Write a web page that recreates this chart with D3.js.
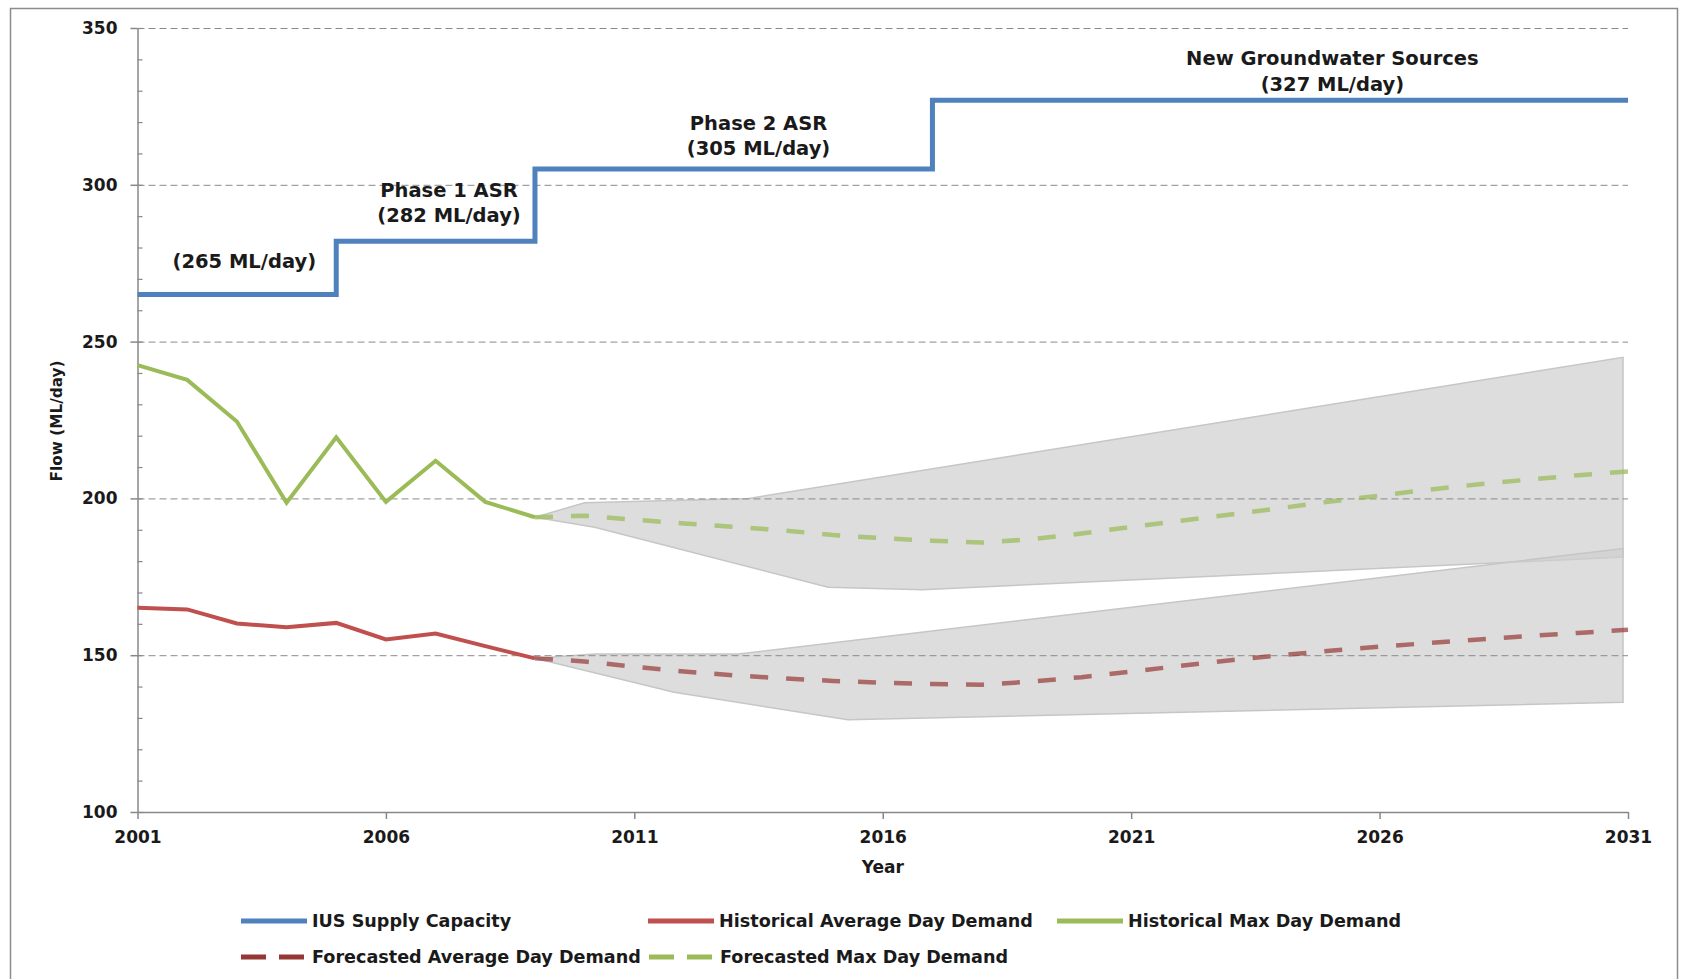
<!DOCTYPE html>
<html>
<head>
<meta charset="utf-8">
<script src="https://cdn.jsdelivr.net/npm/d3@7"></script>
<style>
  body { margin: 0; background: #fff; }
  svg text { font-family: "DejaVu Sans", sans-serif; font-weight: bold; fill: #1a1a1a; }
</style>
</head>
<body>
<svg></svg>
<script>
var width = 1683;
var height = 979;

// data

var histYears = [2001, 2002, 2003, 2004, 2005, 2006, 2007, 2008, 2009];
var histAvg = [165.1, 164.6, 160.1, 158.9, 160.3, 155.0, 156.9, 152.9, 149.0];
var histMax = [242.5, 237.8, 224.5, 198.6, 219.5, 198.9, 212.0, 198.9, 194.0];

var foreYears = [2009, 2010, 2011, 2012, 2013, 2014, 2015, 2016, 2017, 2018, 2019, 2020,
  2021, 2022, 2023, 2024, 2025, 2026, 2027, 2028, 2029, 2030, 2031];
var foreAvg = [149.0, 148.0, 146.3, 144.8, 143.6, 142.6, 141.8, 141.2, 140.8, 140.6, 141.6, 143.0,
  144.8, 146.6, 148.4, 150.0, 151.4, 152.7, 153.9, 155.0, 156.1, 157.1, 158.1];
var foreMax = [194.0, 194.5, 193.2, 192.0, 190.9, 189.8, 188.3, 187.3, 186.5, 185.9, 187.0, 188.8,
  190.9, 192.9, 194.9, 196.9, 199.0, 200.9, 202.8, 204.5, 206.0, 207.4, 208.6];

var supplyYears = [2001, 2005, 2009, 2017, 2031];
var supplyValues = [265, 282, 305, 327, 327];

// uncertainty bands (upper and lower edges)
var maxBandUpperYears = [2009, 2010, 2013.3, 2030.9];
var maxBandUpper = [194, 198.6, 200, 245];
var maxBandLowerYears = [2009, 2010.2, 2014.9, 2016.8, 2030.9];
var maxBandLower = [194, 190.8, 171.7, 170.9, 181.3];
var avgBandUpperYears = [2009, 2010.2, 2013.1, 2030.9];
var avgBandUpper = [149, 150.4, 150.4, 184];
var avgBandLowerYears = [2009, 2011.8, 2015.3, 2030.9];
var avgBandLower = [149, 138.2, 129.4, 135];

var capacityLabels = [
  {year: 2003.15, lines: ["(265 ML/day)"], value: 273.6},
  {year: 2007.27, lines: ["Phase 1 ASR", "(282 ML/day)"], value: 295},
  {year: 2013.5, lines: ["Phase 2 ASR", "(305 ML/day)"], value: 316.3},
  {year: 2025.05, lines: ["New Groundwater Sources", "(327 ML/day)"], value: 336.8}
];

var xTicks = [2001, 2006, 2011, 2016, 2021, 2026, 2031];
var yTicks = [100, 150, 200, 250, 300, 350];
var yMinorTicks = d3.range(100, 351, 10);

var legendNames = ["IUS Supply Capacity", "Historical Average Day Demand", "Historical Max Day Demand",
  "Forecasted Average Day Demand", "Forecasted Max Day Demand"];
var legendColors = ["#4f81bd", "#c0504d", "#9bbb59", "#953735", "#9bbb59"];
var legendDashed = [false, false, false, true, true];

// SVG setup

var svg = d3.select("svg")
  .attr("width", width)
  .attr("height", height);

svg.append("rect")
  .attr("x", 10.5).attr("y", 8.5)
  .attr("width", 1667).attr("height", 1000)
  .attr("fill", "#fff")
  .attr("stroke", "#8c8c8c")
  .attr("stroke-width", 1.5);

var x = d3.scaleLinear().domain([2001, 2031]).range([137.5, 1628]);
var y = d3.scaleLinear().domain([100, 350]).range([812, 28]);

// bands

function band(upYears, up, loYears, lo) {
  var pts = upYears.map((yr, i) => [x(yr), y(up[i])]);
  var low = loYears.map((yr, i) => [x(yr), y(lo[i])]).reverse();
  return d3.line().curve(d3.curveLinearClosed)(pts.concat(low));
}

svg.append("path")
  .attr("d", band(maxBandUpperYears, maxBandUpper, maxBandLowerYears, maxBandLower))
  .attr("fill", "#cfcfcf").attr("fill-opacity", 0.7)
  .attr("stroke", "#c6c6c6").attr("stroke-width", 1.5);

svg.append("path")
  .attr("d", band(avgBandUpperYears, avgBandUpper, avgBandLowerYears, avgBandLower))
  .attr("fill", "#cfcfcf").attr("fill-opacity", 0.7)
  .attr("stroke", "#c6c6c6").attr("stroke-width", 1.5);

// gridlines

var grid = svg.append("g")
  .attr("transform", "translate(" + x(2001) + ",0)")
  .call(d3.axisRight(y).tickValues(yTicks.slice(1)).tickSize(x(2031) - x(2001)).tickFormat(""));
grid.select(".domain").remove();
grid.selectAll("line")
  .attr("stroke", "#8a8a8a")
  .attr("stroke-dasharray", "7,4");

// y axis

var yAxis = svg.append("g")
  .attr("transform", "translate(" + x(2001) + ",0)")
  .call(d3.axisLeft(y).tickValues(yTicks).tickSize(7).tickPadding(13).tickSizeOuter(0));
yAxis.select(".domain").attr("stroke", "#888").attr("stroke-width", 1.5);
yAxis.selectAll("line").attr("stroke", "#888").attr("stroke-width", 1.5);
yAxis.selectAll("text").attr("font-size", 17).attr("font-family", null);

var yMinor = svg.append("g")
  .attr("transform", "translate(" + x(2001) + ",0)")
  .call(d3.axisRight(y).tickValues(yMinorTicks).tickSize(5).tickFormat(""));
yMinor.select(".domain").remove();
yMinor.selectAll("line").attr("stroke", "#888").attr("stroke-width", 1.2);

// x axis

var xAxis = svg.append("g")
  .attr("transform", "translate(0," + y(100) + ")")
  .call(d3.axisBottom(x).tickValues(xTicks).tickFormat(d3.format("d")).tickSize(7).tickPadding(12).tickSizeOuter(0));
xAxis.select(".domain").attr("stroke", "#888").attr("stroke-width", 1.5);
xAxis.selectAll("line").attr("stroke", "#888").attr("stroke-width", 1.5);
xAxis.selectAll("text").attr("font-size", 17).attr("font-family", null);

// axis titles

svg.append("text")
  .attr("x", (x(2001) + x(2031)) / 2)
  .attr("y", 873)
  .attr("text-anchor", "middle")
  .attr("font-size", 17)
  .text("Year");

svg.append("text")
  .attr("transform", "translate(62,421) rotate(-90)")
  .attr("text-anchor", "middle")
  .attr("font-size", 15.3)
  .text("Flow (ML/day)");

// lines

var line = d3.line().x(d => x(d[0])).y(d => y(d[1]));

svg.append("path")
  .attr("d", line.curve(d3.curveStepAfter)(d3.zip(supplyYears, supplyValues)))
  .attr("fill", "none")
  .attr("stroke", "#4f81bd")
  .attr("stroke-width", 5);
line.curve(d3.curveLinear);

svg.append("path")
  .attr("d", line(d3.zip(foreYears, foreMax)))
  .attr("fill", "none")
  .attr("stroke", "#9bbb59").attr("stroke-opacity", 0.75)
  .attr("stroke-width", 4.5)
  .attr("stroke-dasharray", "18,18");

svg.append("path")
  .attr("d", line(d3.zip(foreYears, foreAvg)))
  .attr("fill", "none")
  .attr("stroke", "#953735").attr("stroke-opacity", 0.7)
  .attr("stroke-width", 4.5)
  .attr("stroke-dasharray", "18,18");

svg.append("path")
  .attr("d", line(d3.zip(histYears, histMax)))
  .attr("fill", "none")
  .attr("stroke", "#9bbb59")
  .attr("stroke-width", 4);

svg.append("path")
  .attr("d", line(d3.zip(histYears, histAvg)))
  .attr("fill", "none")
  .attr("stroke", "#c0504d")
  .attr("stroke-width", 4);

// capacity labels

capacityLabels.forEach(function(lab) {
  var t = svg.append("text")
    .attr("x", x(lab.year))
    .attr("y", y(lab.value))
    .attr("text-anchor", "middle")
    .attr("font-size", 19.5);
  lab.lines.forEach(function(s, i) {
    t.append("tspan")
      .attr("x", x(lab.year))
      .attr("dy", i === 0 ? (lab.lines.length === 1 ? "0" : "-0.2em") : "1.3em")
      .text(s);
  });
});

// legend

var legendPos = [[241, 921], [648, 921], [1057, 921], [241, 957], [649, 957]];
var legend = svg.selectAll(".legend")
  .data(legendNames)
  .enter()
  .append("g")
    .attr("transform", (d, i) => "translate(" + legendPos[i][0] + "," + legendPos[i][1] + ")");

legend.append("line")
  .attr("x1", 0).attr("x2", 66)
  .attr("stroke", (d, i) => legendColors[i])
  .attr("stroke-width", 5)
  .attr("stroke-dasharray", (d, i) => legendDashed[i] ? "25,13" : null);

legend.append("text")
  .attr("x", 71)
  .attr("dy", "0.36em")
  .attr("font-size", 17.6)
  .text(d => d);
</script>
</body>
</html>
